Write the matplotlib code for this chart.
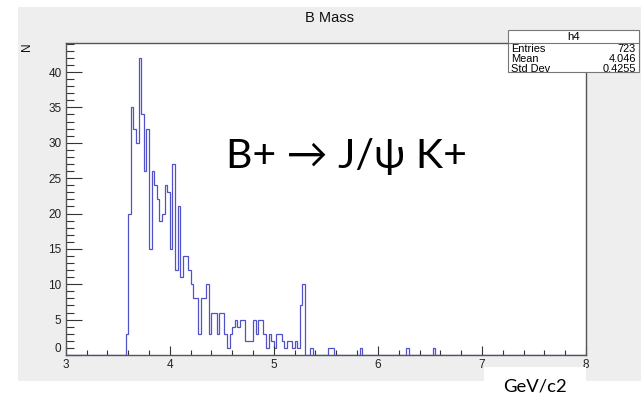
import numpy as np
import matplotlib
matplotlib.use("Agg")
import matplotlib.pyplot as plt
from matplotlib.patches import Rectangle

# histogram h4: 200 bins from 3 to 8 GeV/c2
x_min, x_max, n_bins = 3.0, 8.0, 200
first_bin = 3.575
counts = [3, 20, 35, 32, 30, 42, 34, 26, 32, 15,
          26, 24, 22, 19, 20, 24, 23, 15, 27, 12,
          21, 11, 14, 14, 12, 10, 8, 8, 3, 8,
          8, 10, 3, 6, 6, 3, 6, 6, 3, 1,
          3, 4, 5, 4, 5, 5, 2, 2, 2, 5,
          3, 5, 5, 3, 1, 3, 2, 1, 3, 3,
          2, 1, 2, 2, 1, 2, 1, 7, 10, 0,
          0, 1]
tail_bins = [5.525, 5.55, 5.825, 6.275, 6.525]
tail_counts = [1, 1, 1, 1, 1]

stats_labels = ["Entries", "Mean", "Std Dev"]
stats_values = ["723", "4.046", "0.4255"]

W, H = 644, 399
fig = plt.figure(figsize=(W / 100, H / 100), dpi=100)
fig.patch.set_facecolor("white")

def fx(px):
    return px / W

def fy(py):
    return 1 - py / H

# grey ROOT canvas
fig.patches.append(Rectangle((fx(18), fy(381)), fx(641) - fx(18), fy(7) - fy(381),
                             transform=fig.transFigure, facecolor="#eeeeee",
                             edgecolor="none", zorder=-5))

left, right, top, bottom = 65.7, 586, 43, 355
ax = fig.add_axes([fx(left), fy(bottom), fx(right) - fx(left), fy(top) - fy(bottom)])
ax.set_facecolor("white")

edges = np.linspace(x_min, x_max, n_bins + 1)
full = np.zeros(n_bins)
start = int(round((first_bin - x_min) / 0.025))
full[start:start + len(counts)] = counts
for b, c in zip(tail_bins, tail_counts):
    full[int(round((b - x_min) / 0.025))] = c

ax.stairs(full, edges, color="#5252c8", lw=0.9, baseline=0)

ax.set_xlim(x_min, x_max)
ax.set_ylim(0, 44.1)
ax.set_xticks(np.arange(3, 9, 1))
ax.set_xticks(np.arange(3, 8.01, 0.2), minor=True)
ax.set_yticks(np.arange(0, 45, 5))
ax.set_yticks(np.arange(0, 45, 1), minor=True)
ax.tick_params(axis="both", which="both", direction="in", colors="#333333",
               labelcolor="#222222", labelsize=8.5, width=0.8)
ax.tick_params(axis="y", which="major", length=11.5, pad=3)
ax.tick_params(axis="y", which="minor", length=5.8)
ax.tick_params(axis="x", which="major", length=6.8, pad=3)
ax.tick_params(axis="x", which="minor", length=3.4)
for lab in ax.get_xticklabels() + ax.get_yticklabels():
    lab.set_family("Liberation Sans")
ax.get_yticklabels()[0].set_va("bottom")
for s in ax.spines.values():
    s.set_color("#555555")
    s.set_linewidth(1.0)

fig.text(fx(329), fy(18), "B Mass", ha="center", va="center", fontsize=10.5,
         family="Liberation Sans", color="#111111")
fig.text(fx(27), fy(42), "N", ha="center", va="top", rotation=90, fontsize=8.5,
         family="Liberation Sans", color="#111111")

# stats box
bx0, bx1, by0, by1 = 508, 639, 30, 72
fig.patches.append(Rectangle((fx(bx0), fy(by1)), fx(bx1) - fx(bx0), fy(by0) - fy(by1),
                             transform=fig.transFigure, facecolor="white",
                             edgecolor="#777777", lw=0.8, zorder=5))
fig.lines.append(plt.Line2D([fx(bx0), fx(bx1)], [fy(43), fy(43)],
                            transform=fig.transFigure, color="#777777", lw=0.8, zorder=6))
fig.text(fx((bx0 + bx1) / 2), fy(36.5), "h4", ha="center", va="center", fontsize=8.2,
         family="Liberation Sans", zorder=7)
for i, (lab, val) in enumerate(zip(stats_labels, stats_values)):
    yy = fy(49.5 + i * 9.8)
    fig.text(fx(511), yy, lab, ha="left", va="center", fontsize=7.9,
             family="Liberation Sans", zorder=7)
    fig.text(fx(636), yy, val, ha="right", va="center", fontsize=7.9,
             family="Liberation Sans", zorder=7)

# annotation
fig.text(fx(226), fy(168), "B+ \u2192 J/\u03c8 K+", ha="left", va="baseline",
         fontsize=29.5, family=["Lato", "DejaVu Sans"], color="black")

# unit label box (pasted over the axis, hides part of the "8")
fig.patches.append(Rectangle((fx(484), 0), fx(585.5) - fx(484), fy(367),
                             transform=fig.transFigure, facecolor="white",
                             edgecolor="none", zorder=8))
fig.text(fx(535), fy(386), "GeV/c2", ha="center", va="center", fontsize=13.3,
         family=["Lato", "DejaVu Sans"], zorder=9)

fig.savefig("out.png", dpi=100)
